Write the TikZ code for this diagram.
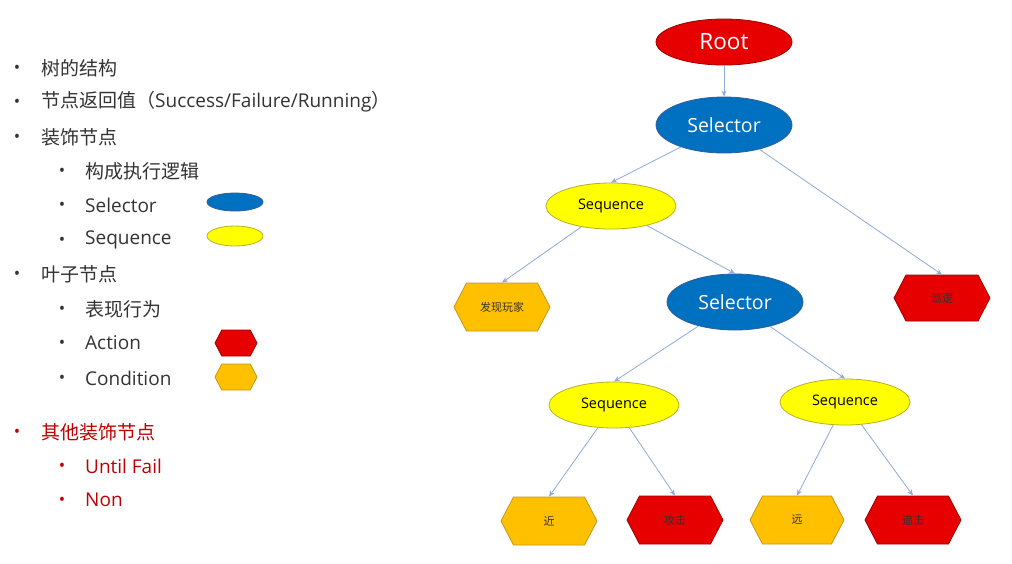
\documentclass[tikz,border=0pt]{standalone}
\usepackage{fontspec}
\setmainfont{Open Sans}
\newfontfamily\cjk{Noto Sans CJK SC}
\newcommand\zh[1]{{\cjk\fontsize{19}{20}\selectfont #1}}
\usetikzlibrary{shapes.geometric,shapes.symbols,arrows.meta}
\definecolor{rfill}{HTML}{E60000}
\definecolor{rdraw}{HTML}{9E0000}
\definecolor{bfill}{HTML}{0070C0}
\definecolor{bdraw}{HTML}{2E5E9A}
\definecolor{yfill}{HTML}{FFFF00}
\definecolor{ydraw}{HTML}{B8B020}
\definecolor{ofill}{HTML}{FFC000}
\definecolor{odraw}{HTML}{C4961A}
\definecolor{edge}{HTML}{8FAADC}
\definecolor{txt}{HTML}{333333}
\definecolor{redtxt}{HTML}{C00000}
\tikzset{
  rootnode/.style={ellipse, fill=rfill, draw=rdraw, line width=0.8pt, minimum width=136pt, minimum height=46pt, inner sep=0pt, text=white, font=\fontsize{22.5}{24}\selectfont},
  selnode/.style={ellipse, fill=bfill, draw=bdraw, line width=0.8pt, minimum width=136pt, minimum height=56pt, inner sep=0pt, text=white, font=\fontsize{19.5}{21}\selectfont},
  seqnode/.style={ellipse, fill=yfill, draw=ydraw, line width=0.8pt, minimum width=130pt, minimum height=46pt, inner sep=0pt, text=black, font=\fontsize{14.5}{16}\selectfont},
  leaf/.style={signal, signal to=east and west, signal pointer angle=125, line width=0.8pt, minimum width=96pt, minimum height=48pt, inner sep=0pt, text=txt, font=\cjk\fontsize{11}{12}\selectfont},
  actnode/.style={leaf, fill=rfill, draw=rdraw},
  condnode/.style={leaf, fill=ofill, draw=odraw},
  link/.style={draw=edge, line width=0.8pt, -{Stealth[length=6pt,width=5pt]}},
  item/.style={anchor=west, text=txt, font=\fontsize{19}{20}\selectfont, inner sep=0pt},
  bul/.style={text=txt, font=\fontsize{17}{18}\selectfont, inner sep=0pt},
}
\begin{document}
\begin{tikzpicture}[x=1pt,y=-1pt]
\useasboundingbox (0,0) rectangle (1012,563);
\fill[white] (0,0) rectangle (1012,563);
% left list
\node[bul] (b1) at (17,69) {•};
\node[item] (i1) at (41,68) {\zh{树的结构}};
\node[bul] (b2) at (17,103) {•};
\node[item] (i2) at (41,102) {\zh{节点返回值（}Success/Failure/Running\zh{）}};
\node[bul] (b3) at (17,138) {•};
\node[item] (i3) at (41,137) {\zh{装饰节点}};
\node[bul] (b4) at (62,172) {•};
\node[item] (i4) at (85,171) {\zh{构成执行逻辑}};
\node[bul] (b5) at (62,206) {•};
\node[item] (i5) at (85,205) {Selector};
\node[bul] (b6) at (62,241) {•};
\node[item] (i6) at (85,240) {Sequence};
\node[bul] (b7) at (17,275) {•};
\node[item] (i7) at (41,274) {\zh{叶子节点}};
\node[bul] (b8) at (62,310) {•};
\node[item] (i8) at (85,309) {\zh{表现行为}};
\node[bul] (b9) at (62,344) {•};
\node[item] (i9) at (85,343) {Action};
\node[bul] (b10) at (62,379) {•};
\node[item] (i10) at (85,378) {Condition};
\node[bul, text=redtxt] (b11) at (17,433) {•};
\node[item, text=redtxt] (i11) at (41,432) {\zh{其他装饰节点}};
\node[bul, text=redtxt] (b12) at (62,467) {•};
\node[item, text=redtxt] (i12) at (85,466) {Until Fail};
\node[bul, text=redtxt] (b13) at (62,501) {•};
\node[item, text=redtxt] (i13) at (85,500) {Non};
% legend
\node[ellipse, fill=bfill, draw=bdraw, line width=0.8pt, minimum width=56pt, minimum height=18pt, inner sep=0pt] (lsel) at (235,202) {};
\node[ellipse, fill=yfill, draw=ydraw, line width=0.8pt, minimum width=56pt, minimum height=20pt, inner sep=0pt] (lseq) at (235,236) {};
\node[actnode, minimum width=42pt, minimum height=26pt] (lact) at (236,343) {};
\node[condnode, minimum width=42pt, minimum height=26pt] (lcond) at (236,377) {};
% tree
\node[rootnode] (root) at (724,42) {Root};
\node[selnode] (sel1) at (724,125) {Selector};
\node[seqnode] (seq1) at (611,206) {Sequence};
\node[condnode] (find) at (502,307) {发现玩家};
\node[selnode] (sel2) at (735,302) {Selector};
\node[actnode, minimum height=46pt] (patrol) at (942,298) {巡逻};
\node[seqnode] (seq2) at (614,405) {Sequence};
\node[seqnode] (seq3) at (845,402) {Sequence};
\node[condnode] (near) at (549,521) {近};
\node[actnode] (attack) at (675,520) {攻击};
\node[condnode, minimum width=94pt] (far) at (797,520) {远};
\node[actnode] (chase) at (913,520) {追击};
\draw[link] (root) -- (sel1.north);
\draw[link] (sel1) -- (seq1.north);
\draw[link] (sel1) -- (patrol.north);
\draw[link] (seq1) -- (find.north);
\draw[link] (seq1) -- (sel2.north);
\draw[link] (sel2) -- (seq2.north);
\draw[link] (sel2) -- (seq3.north);
\draw[link] (seq2) -- (near.north);
\draw[link] (seq2) -- (attack.north);
\draw[link] (seq3) -- (far.north);
\draw[link] (seq3) -- (chase.north);
\end{tikzpicture}
\end{document}
